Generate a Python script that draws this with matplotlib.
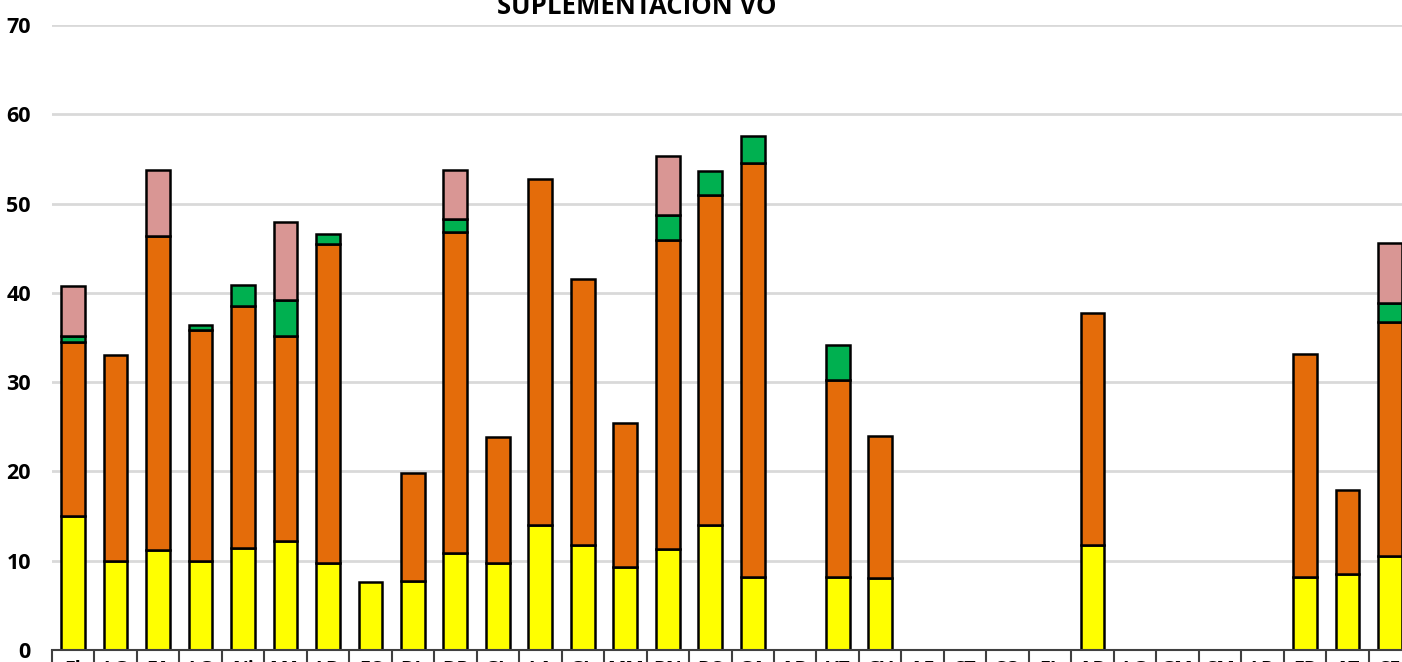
import matplotlib
matplotlib.use('Agg')
import matplotlib.pyplot as plt
import matplotlib.transforms as mtransforms
import numpy as np

plt.rcParams['font.family'] = ['Open Sans', 'DejaVu Sans']

labels = ['Fl', 'LG', 'FA', 'LG', 'Ni', 'MA', 'LD', 'FC', 'DL', 'DP', 'GL', 'LA', 'GL', 'MM',
          'RN', 'RC', 'GA', 'AD', 'VZ', 'GV', 'AE', 'CT', 'CO', 'EL', 'AD', 'LG', 'GM', 'CM',
          'LR', 'ER', 'AT', 'CE']

amarillo = [15.0, 10.0, 11.2, 10.0, 11.4, 12.2, 9.7, 7.6, 7.7, 10.9, 9.7, 14.0, 11.8, 9.3,
            11.3, 14.0, 8.2, 0, 8.2, 8.1, 0, 0, 0, 0, 11.8, 0, 0, 0,
            0, 8.2, 8.5, 10.5]
naranja = [19.5, 23.0, 35.2, 25.8, 27.1, 23.0, 35.8, 0, 12.1, 35.9, 14.2, 38.7, 29.7, 16.1,
           34.6, 37.0, 46.4, 0, 22.0, 15.9, 0, 0, 0, 0, 25.9, 0, 0, 0,
           0, 24.9, 9.4, 26.2]
verde = [0.7, 0, 0, 0.6, 2.4, 4.0, 1.1, 0, 0, 1.5, 0, 0, 0, 0,
         2.8, 2.6, 3.0, 0, 4.0, 0, 0, 0, 0, 0, 0, 0, 0, 0,
         0, 0, 0, 2.2]
rosa = [5.6, 0, 7.4, 0, 0, 8.7, 0, 0, 0, 5.5, 0, 0, 0, 0,
        6.6, 0, 0, 0, 0, 0, 0, 0, 0, 0, 0, 0, 0, 0,
        0, 0, 0, 6.7]

series = [amarillo, naranja, verde, rosa]
colores = ['#FFFF00', '#E46C0A', '#00B050', '#D99694']

fig = plt.figure(figsize=(14.02, 6.62), dpi=100)
ax = fig.add_axes([51.8 / 1402, 12 / 662, 1359.4 / 1402, 625 / 662])

x = np.arange(len(labels))
base = np.zeros(len(labels))
for vals, c in zip(series, colores):
    v = np.array(vals)
    m = v > 0
    ax.bar(x[m], v[m], bottom=base[m], width=0.56, color=c, edgecolor='black',
           linewidth=1.8, zorder=3)
    base = base + v

ax.set_xlim(-0.5, len(labels) - 0.5)
ax.set_ylim(0, 70)
ax.set_yticks(np.arange(0, 71, 10))
ax.yaxis.grid(True, color='#D9D9D9', linewidth=2)
ax.set_axisbelow(True)
for s in ['top', 'right', 'left']:
    ax.spines[s].set_visible(False)
ax.spines['bottom'].set_color('#404040')
ax.spines['bottom'].set_linewidth(1.5)
ax.spines['bottom'].set_zorder(4)

ax.tick_params(axis='y', length=0, pad=15, labelsize=15.5)
for t in ax.get_yticklabels():
    t.set_fontweight('bold')
ax.set_xticks(x)
ax.set_xticklabels(labels, fontsize=14, fontweight='bold')
ax.tick_params(axis='x', length=0, pad=7)

# celdas de la tabla de categorias
trans = mtransforms.blended_transform_factory(ax.transData, ax.transAxes)
ax.vlines(np.arange(len(labels) + 1) - 0.5, -0.05, 0, transform=trans, colors='#404040',
          linewidth=1.5, clip_on=False)

fig.text(637 / 1402, 1.0 - 14 / 662, 'SUPLEMENTACION VO', ha='center', va='baseline',
         fontsize=18.5, fontweight='bold')

fig.savefig('out.png', dpi=100)
